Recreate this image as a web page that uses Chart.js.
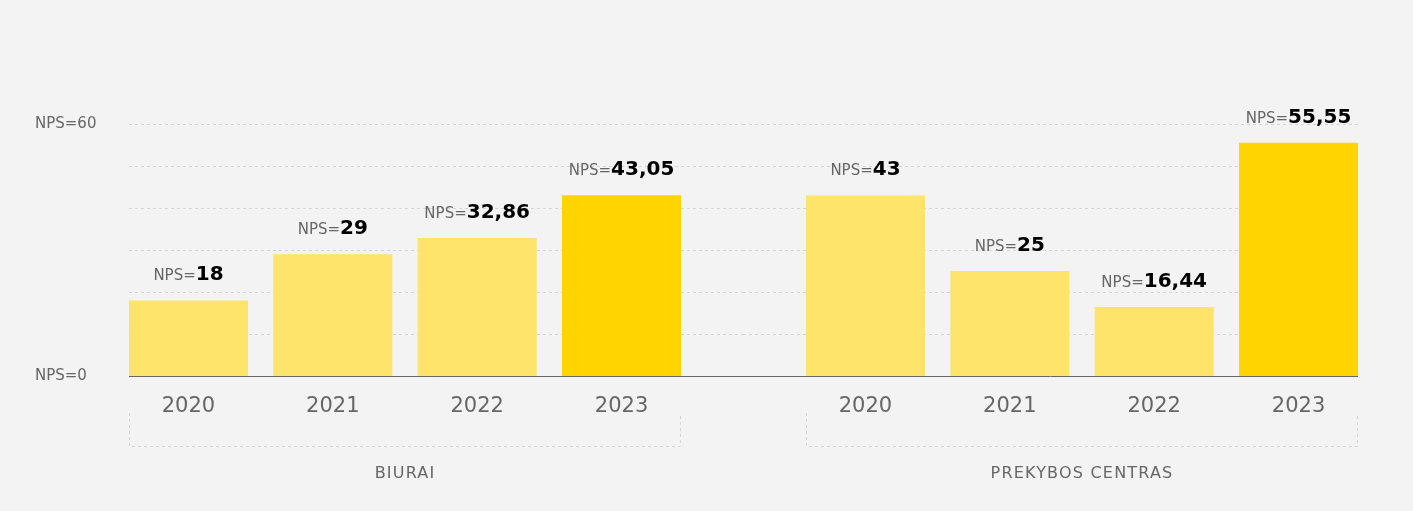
<!DOCTYPE html>
<html>
<head>
<meta charset="utf-8">
<script src="https://cdn.jsdelivr.net/npm/chart.js@4.4.1/dist/chart.umd.min.js"></script>
<style>
  html, body { margin: 0; padding: 0; background: #f3f3f3; overflow: hidden; }
  #wrap { position: relative; width: 1413px; height: 511px; }
  .pusė { position: absolute; top: 0; height: 511px; }
  #kaire { left: 0; width: 743px; }
  #desine { left: 743px; width: 670px; }
</style>
</head>
<body>
<div id="wrap">
  <div class="pusė" id="kaire"><canvas id="grafikasBiurai"></canvas></div>
  <div class="pusė" id="desine"><canvas id="grafikasPC"></canvas></div>
</div>
<script>
// duomenys
const metai = ['2020', '2021', '2022', '2023'];
const npsBiurai = [18, 29, 32.86, 43.05];
const npsPrekyba = [43, 25, 16.44, 55.55];
const grupes = ['BIURAI', 'PREKYBOS CENTRAS'];
const yRibos = [0, 60]; // tik sios reiksmes turi uzrasa

const sviesi = '#fee46b';
const tamsi = '#ffd400';
const pilka = '#666666';
Chart.defaults.font.family = '"DejaVu Sans", sans-serif';

// tinklelis, bazine linija, remelis ir uzrasai
const puosimas = {
  id: 'puosimas',
  beforeDatasetsDraw(chart, args, o) {
    const ctx = chart.ctx, y = chart.scales.y;
    const bars = chart.getDatasetMeta(0).data;
    const x0 = bars[0].x - bars[0].width / 2;
    const x1 = bars[bars.length - 1].x + bars[bars.length - 1].width / 2;
    const gx0 = o.side === 'left' ? x0 : 0;
    const gx1 = o.side === 'left' ? chart.width : x1;
    ctx.save();
    ctx.strokeStyle = '#d4d4d4';
    ctx.lineWidth = 1;
    ctx.setLineDash([3, 3]);
    for (let v = y.min + 10; v <= y.max; v += 10) {
      const py = Math.round(y.getPixelForValue(v)) + 0.5;
      ctx.beginPath();
      ctx.moveTo(gx0, py);
      ctx.lineTo(gx1, py);
      ctx.stroke();
    }
    // remelis po metais
    const yb = Math.round(y.getPixelForValue(0));
    ctx.beginPath();
    ctx.moveTo(Math.round(x0) + 0.5, yb + 37);
    ctx.lineTo(Math.round(x0) + 0.5, yb + 70.5);
    ctx.lineTo(Math.round(x1) - 0.5, yb + 70.5);
    ctx.lineTo(Math.round(x1) - 0.5, yb + 37);
    ctx.stroke();
    ctx.restore();
  },
  afterDatasetsDraw(chart, args, o) {
    const ctx = chart.ctx, y = chart.scales.y, x = chart.scales.x;
    const bars = chart.getDatasetMeta(0).data;
    const d = chart.data.datasets[0].data;
    const x0 = bars[0].x - bars[0].width / 2;
    const x1 = bars[bars.length - 1].x + bars[bars.length - 1].width / 2;
    const gx0 = o.side === 'left' ? x0 : 0;
    const gx1 = o.side === 'left' ? chart.width : x1;
    const yb = Math.round(y.getPixelForValue(0)) + 0.5;
    ctx.save();
    ctx.strokeStyle = pilka;
    ctx.lineWidth = 1;
    ctx.beginPath();
    ctx.moveTo(gx0, yb);
    ctx.lineTo(gx1, yb);
    ctx.stroke();

    ctx.textBaseline = 'alphabetic';
    ctx.textAlign = 'left';
    bars.forEach((b, i) => {
      const sk = String(d[i]).replace('.', ',');
      ctx.font = '15px "DejaVu Sans"';
      const w1 = ctx.measureText('NPS=').width;
      ctx.font = 'bold 20px "DejaVu Sans"';
      const w2 = ctx.measureText(sk).width;
      const sx = b.x - (w1 + w2) / 2;
      const ty = b.y - 20;
      ctx.font = '15px "DejaVu Sans"';
      ctx.fillStyle = pilka;
      ctx.fillText('NPS=', sx, ty);
      ctx.font = 'bold 20px "DejaVu Sans"';
      ctx.fillStyle = '#000';
      ctx.fillText(sk, sx + w1, ty);
    });

    // grupes pavadinimas
    ctx.font = '16px "DejaVu Sans"';
    ctx.letterSpacing = '1.2px';
    ctx.fillStyle = pilka;
    ctx.textAlign = 'center';
    ctx.textBaseline = 'middle';
    ctx.fillText(o.grupe, (x.left + x.right) / 2, 474);
    ctx.restore();
  }
};

function piesti(id, reiksmes, grupe, side) {
  return new Chart(document.getElementById(id), {
    type: 'bar',
    data: {
      labels: metai,
      datasets: [{
        data: reiksmes,
        backgroundColor: metai.map((m, i) => i === metai.length - 1 ? tamsi : sviesi),
        barPercentage: 0.8245,
        categoryPercentage: 1
      }]
    },
    options: {
      responsive: true,
      maintainAspectRatio: false,
      animation: false,
      layout: {
        padding: side === 'left'
          ? { left: 35, right: 49.3, top: 124, bottom: 0 }
          : { left: 50.3, right: 42.3, top: 124, bottom: 0 }
      },
      plugins: {
        legend: { display: false },
        tooltip: { enabled: false },
        puosimas: { side: side, grupe: grupe }
      },
      scales: {
        x: {
          grid: { display: false, drawTicks: false },
          border: { display: false },
          ticks: { color: pilka, font: { size: 21 }, padding: 18 },
          afterFit: s => { s.height = 135; }
        },
        y: {
          min: 0,
          max: 60,
          grid: { display: false },
          border: { display: false },
          ticks: {
            display: side === 'left',
            stepSize: 10,
            crossAlign: 'far',
            color: pilka,
            font: { size: 15 },
            callback: v => yRibos.includes(v) ? 'NPS=' + v : ''
          },
          afterFit: s => { s.width = side === 'left' ? 81.3 : 0; }
        }
      }
    },
    plugins: [puosimas]
  });
}

piesti('grafikasBiurai', npsBiurai, grupes[0], 'left');
piesti('grafikasPC', npsPrekyba, grupes[1], 'right');
</script>
</body>
</html>
